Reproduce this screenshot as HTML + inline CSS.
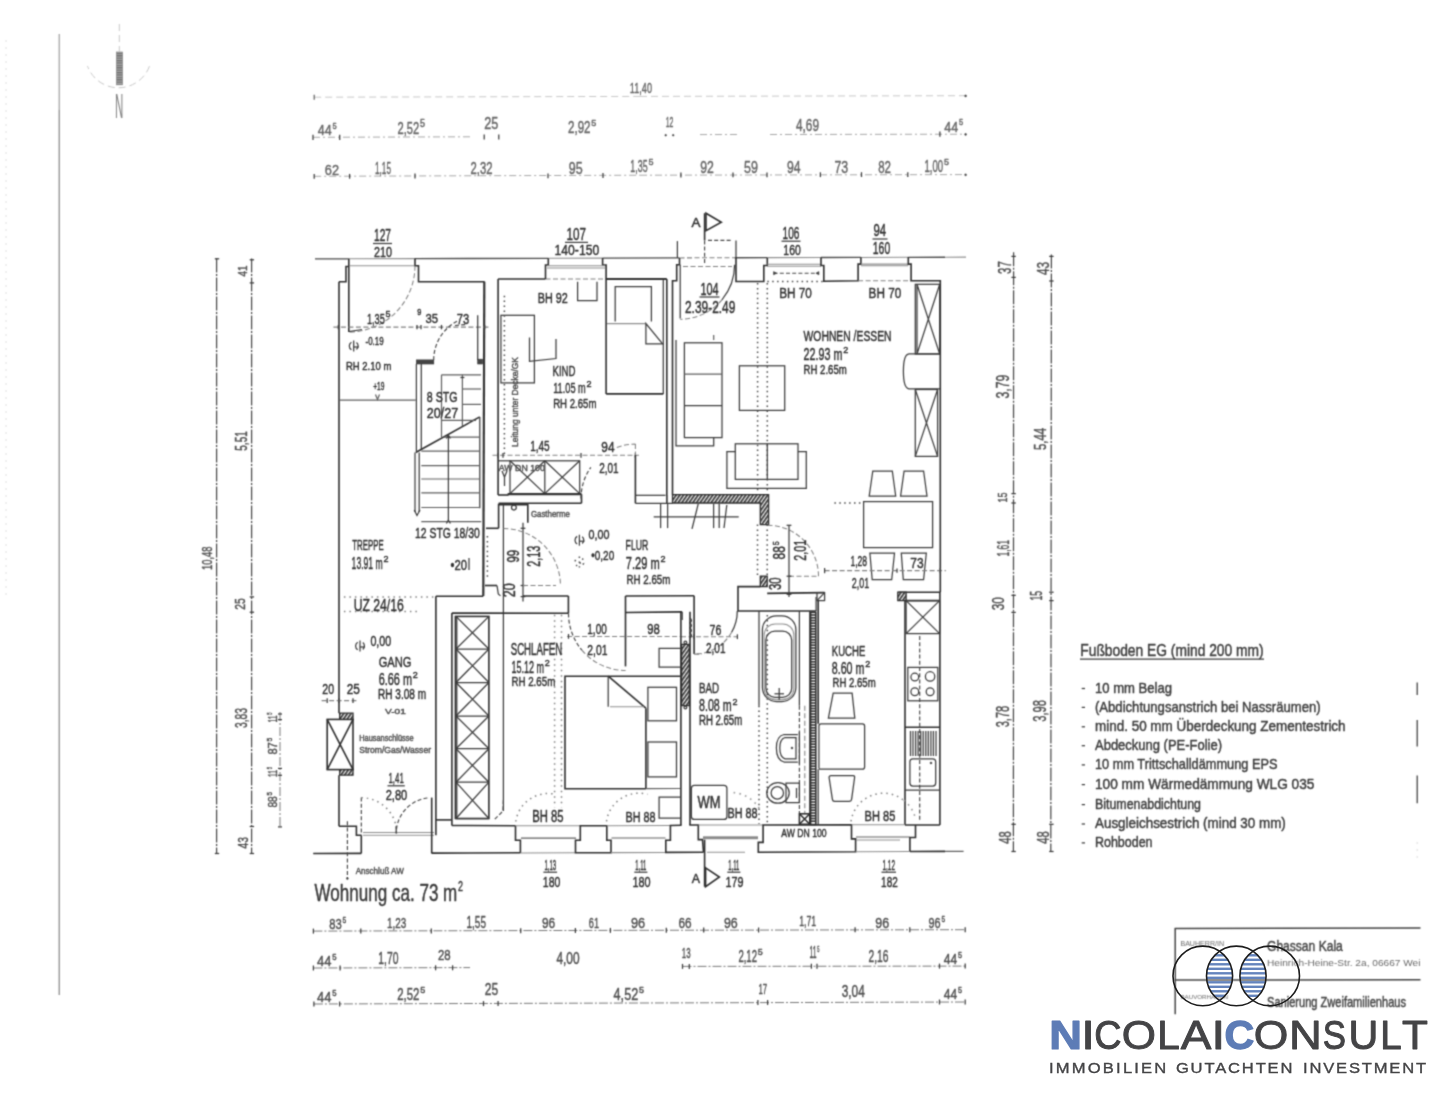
<!DOCTYPE html>
<html lang="de"><head><meta charset="utf-8"><title>Grundriss Wohnung ca. 73 m2</title>
<style>
html,body{margin:0;padding:0;background:#fff}
body{width:1440px;height:1112px;overflow:hidden;position:relative;font-family:"Liberation Sans",sans-serif}
svg{position:absolute;left:0;top:0;display:block}
g.dr path,g.dr rect,g.dr circle,g.dr ellipse{fill:none;stroke-linecap:butt}
.w{stroke:#2e2e2e;stroke-width:1.6}
.wt{stroke:#4a4a4a;stroke-width:1.35}
.w2{stroke:#333;stroke-width:2.2}
.n{stroke:#3c3c3c;stroke-width:1.25}
.g2{stroke:#5e5e5e;stroke-width:1.2}
.g{stroke:#8e8e8e;stroke-width:1.05}
.rung{stroke:#333;stroke-width:1.6}
.g2b{stroke:#777;stroke-width:1.1}
.vg{stroke:#c8c8c8;stroke-width:1;stroke-dasharray:7 4}
.vvg{stroke:#ddd;stroke-width:1;stroke-dasharray:2 5}
.d{stroke:#444;stroke-width:1.15;stroke-dasharray:4 2.2}
.gd{stroke:#808080;stroke-width:1.05;stroke-dasharray:5 2.5}
.gd2{stroke:#787878;stroke-width:1;stroke-dasharray:9 2 2 2}
.vd{stroke:#484848;stroke-width:1.25;stroke-dasharray:14 1.5 2 1.5}
.gd3{stroke:#a8a8a8;stroke-width:1;stroke-dasharray:7 3 2 3}
.dot{stroke:#4a4a4a;stroke-width:1.5;stroke-dasharray:1.5 3.4}
.dot2{stroke:#808080;stroke-width:1.5;stroke-dasharray:1.5 4}
.dot3{stroke:#999;stroke-width:1.6;stroke-dasharray:1.6 4.3}
g.dr .hf{fill:#444;stroke:#333;stroke-width:0.6}
g.dr .hatch{fill:url(#hp);stroke:#2e2e2e;stroke-width:1.3}
g.dr .north{fill:url(#np);stroke:#888;stroke-width:0.7}
text{font-family:"Liberation Sans",sans-serif;fill:#3e3e3e}
g.dr text{stroke-width:0.45;stroke-linejoin:round}
.t{fill:#303030;stroke:#303030}
.t2{fill:#505050;stroke:#505050;stroke-width:0.35}
.tw{fill:#383838;stroke:#383838;stroke-width:0.2}
.t2t{fill:#666;stroke:#666;stroke-width:0.2}
.t3{fill:#505050;stroke:#505050;stroke-width:0.25}
.tn{fill:#808080}
.tl{fill:#3c3c3c;stroke:#3c3c3c;stroke-width:0.35}
.tb{fill:#444;stroke:#444;stroke-width:0.25}
.tb2{fill:#6a6a6a}
.tbl{stroke:#444;stroke-width:1.5}
.lg{font-family:"Liberation Sans",sans-serif}
</style></head><body>
<svg width="1440" height="1112" viewBox="0 0 1440 1112">
<defs>
<pattern id="hp" width="3" height="3" patternUnits="userSpaceOnUse" patternTransform="rotate(35)"><rect width="3" height="3" style="fill:#fff;stroke:none"/><rect width="1.7" height="3" style="fill:#2b2b2b;stroke:none"/></pattern>
<pattern id="np" width="3" height="2.4" patternUnits="userSpaceOnUse"><rect width="3" height="2.4" style="fill:#aaa;stroke:none"/><rect width="3" height="1.2" style="fill:#6a6a6a;stroke:none"/></pattern>
<filter id="bl" x="0" y="0" width="1440" height="1112" filterUnits="userSpaceOnUse" color-interpolation-filters="sRGB"><feConvolveMatrix order="3" kernelMatrix="1 3 1 3 9 3 1 3 1" divisor="25" edgeMode="none" preserveAlpha="false"/></filter>
<clipPath id="lens1"><circle cx="1202.8" cy="975.9" r="29.8"/></clipPath>
<clipPath id="lens2"><circle cx="1236.3" cy="975.9" r="29.8"/></clipPath>
<clipPath id="lens3"><circle cx="1269.7" cy="975.9" r="29.8"/></clipPath>
</defs>
<g class="dr" filter="url(#bl)">
<path class="wt" d="M315 258.9L348.8 258.8"/>
<path class="g" d="M348.8 258.8L415 258.6"/>
<path class="wt" d="M415 258.6L548.3 258.3"/>
<path class="g" d="M548.3 258.3L602.6 258.1"/>
<path class="wt" d="M602.6 258.1L679.5 257.9"/>
<path class="gd" d="M679.5 257.9L734.6 257.7"/>
<path class="wt" d="M734.6 257.7L767.3 257.6"/>
<path class="g" d="M767.3 257.6L821 257.5"/>
<path class="wt" d="M821 257.5L860.9 257.4"/>
<path class="g" d="M860.9 257.4L908.3 257.3"/>
<path class="wt" d="M908.3 257.3L945 257.2"/>
<path class="g" d="M945 257.2L966 257.1"/>
<path class="w" d="M348.8 258.8L348.8 332"/>
<path class="w" d="M348.8 266.5L346 266.5L346 281.8L339 281.8"/>
<path class="g" d="M350 265.8L414 265.8"/>
<path class="w" d="M415 258.6L415 265.8L418.5 265.8L418.5 281.8L484.7 281.8"/>
<path class="gd" d="M415 265.8A66.2 66.2 0 0 1 348.8 332"/>
<path class="n" d="M349 331.6L362 329.5"/>
<path class="w" d="M339 281.8L339 713.2"/>
<path class="w" d="M339 775.2L339 826.2"/>
<path class="w2" d="M484.3 281.8L483.3 595.9"/>
<path class="w" d="M498.1 279L498.1 495"/>
<path class="gd" d="M333.4 327.1L489.5 327.1"/>
<path class="n" d="M338.3 324.9L338.3 329.3"/>
<path class="n" d="M417 324.9L417 329.3"/>
<path class="n" d="M421 324.9L421 329.3"/>
<path class="n" d="M441.5 324.9L441.5 329.3"/>
<path class="n" d="M484.7 324.9L484.7 329.3"/>
<rect class="hf" x="416.4" y="359.9" width="17.4" height="4.1"/>
<rect class="hf" x="477.7" y="359.2" width="4.9" height="4.8"/>
<path class="n" d="M477.7 315.3L477.7 359.9"/>
<path class="d" d="M433.7 360A44 44 0 0 1 459.1 320.1"/>
<path class="d" d="M455 325.5L466 324.5"/>
<path class="n" d="M416.4 364L416.4 451.1"/>
<path class="n" d="M421.3 364L421.3 449"/>
<path class="n" d="M415 452.5L415 512"/>
<path class="n" d="M419.2 452.5L419.2 512"/>
<path class="n" d="M414.2 510L417 515.5L420 510"/>
<path class="g2" d="M339 400.2L415.7 400.2"/>
<path class="g2" d="M375.5 394.5L377.5 399.5L379.5 394.5"/>
<path class="w" d="M415.7 452.5L479.8 416.9"/>
<path class="n" d="M479.8 416.9L479.8 508.2"/>
<path class="g2" d="M441.5 374.8L481 374.8"/>
<path class="g2" d="M463 389L481 389"/>
<path class="g2" d="M463 404.4L481 404.4"/>
<path class="g2" d="M441.5 420.4L476 420.4"/>
<path class="g2" d="M441.5 374.8L441.5 437"/>
<path class="g2" d="M462.4 374.8L462.4 426"/>
<path class="n" d="M460.4 377.5L464.4 377.5"/>
<path class="g2" d="M443.4 437.1L479.8 437.1"/>
<path class="g2" d="M421.3 451.1L479.8 451.1"/>
<path class="g2" d="M421.3 465.7L479.8 465.7"/>
<path class="g2" d="M421.3 479L479.8 479"/>
<path class="g2" d="M421.3 492.9L479.8 492.9"/>
<path class="g2" d="M421.3 507.5L479.8 507.5"/>
<path class="g2" d="M421.3 521.6L481.2 521.6"/>
<path class="n" d="M448.4 435.7L448.4 521.6"/>
<path class="n" d="M446.4 438.5L448.4 435.2L450.4 438.5"/>
<path class="n" d="M446.4 523.5L448.4 520.2L450.4 523.5"/>
<path class="w" d="M498.1 279L545.5 279"/>
<path class="gd" d="M545.5 279L606.1 279"/>
<path class="w2" d="M606.1 279L666.8 279"/>
<path class="w" d="M548.3 258.2L548.3 265L545.5 265L545.5 279"/>
<path class="w" d="M602.6 258L602.6 265L606.1 265L606.1 279"/>
<path class="g" d="M547 265.8L605 265.8"/>
<path class="g" d="M547 267.9L605 267.9"/>
<path class="n" d="M577.6 281.8L577.6 300.6L597 300.6L597 281.8"/>
<rect class="n" x="500.9" y="315.3" width="33.5" height="67.6"/>
<path class="dot" d="M504.4 295.7L504.4 457"/>
<path class="n" d="M529.5 337.6L529.5 361.3L556 358.5L556 339"/>
<path class="w" d="M606.1 279L606.1 393.9"/>
<path class="w" d="M606.1 393.9L663.3 393.9"/>
<path class="n" d="M663.3 279L663.3 393.9"/>
<path class="w" d="M666.8 279L666.8 495"/>
<path class="n" d="M615.2 321.5L615.2 286.7L651.4 286.7L651.4 321.5"/>
<path class="g" d="M607 323.6L645.9 323.6"/>
<path class="n" d="M645.9 323.6L645.9 343.8L662.6 343.8Z"/>
<rect class="n" x="510" y="460.8" width="69.7" height="32.8"/>
<path class="n" d="M544.8 460.8L544.8 493.6"/>
<path class="n" d="M510 460.8L544.8 493.6M544.8 460.8L510 493.6M544.8 460.8L579.7 493.6M579.7 460.8L544.8 493.6"/>
<path class="n" d="M498.1 460.8L510 460.8"/>
<path class="n" d="M502 471L504.5 477L507 471"/>
<path class="n" d="M504.5 477L504.5 486"/>
<path class="w" d="M498.1 495L508.6 495"/>
<path class="gd" d="M492.5 455.3L638.9 455.3"/>
<path class="n" d="M498.1 452.9L498.1 457.7"/>
<path class="n" d="M503 452.9L503 457.7"/>
<path class="n" d="M581 452.9L581 457.7"/>
<path class="n" d="M635.4 452.9L635.4 457.7"/>
<path class="w2" d="M507.6 494.2L581.5 494.2"/>
<path class="w" d="M581.5 494.2L581.5 503.2"/>
<path class="w" d="M498.6 503.2L581.5 503.2"/>
<path class="d" d="M581 498.5A54.4 54.4 0 0 1 590.8 467.3"/>
<path class="gd" d="M616.8 447.4A54.4 54.4 0 0 1 635.4 444.1"/>
<path class="gd" d="M635.4 444L635.4 455"/>
<path class="w" d="M635.4 455L635.4 503.3"/>
<path class="n" d="M635.4 495.3L665.5 495.3"/>
<path class="n" d="M635.4 503.3L672.5 503.3"/>
<path class="w" d="M666.9 495L666.9 503"/>
<path class="w" d="M498.6 528.3L498.6 504.6L527.8 504.6L527.8 522.8"/>
<path class="w" d="M486 528.3L498.6 528.3"/>
<circle class="n" cx="513.9" cy="507.6" r="2.4"/>
<path class="n" d="M503.4 504.6L503.4 811"/>
<path class="w" d="M485 585.5L497 585.5"/>
<path class="n" d="M497 585.5L498.3 594L500.5 595.9"/>
<path class="dot" d="M487.4 536L487.4 580"/>
<path class="n" d="M523 522.8L523 601.5"/>
<path class="n" d="M520.6 528.3L525.4 528.3"/>
<path class="n" d="M520.6 585.5L525.4 585.5"/>
<path class="n" d="M520.6 596.6L525.4 596.6"/>
<path class="gd" d="M503.4 528.5A57 57 0 0 1 560.4 583.5"/>
<path class="gd" d="M523 585.5L556 585.5"/>
<path class="w" d="M679.5 257.9L679.5 264.8L676.7 264.8L676.7 280.8L672.5 280.8L672.5 494.6"/>
<path class="n" d="M677.4 241.1L677.4 257.9"/>
<path class="n" d="M680.2 264.8L680.2 318.5"/>
<path class="n" d="M734.6 264.8A54.4 54.4 0 0 1 721.9 299.8"/>
<path class="gd" d="M721.9 299.8A54.4 54.4 0 0 1 680.2 319.2"/>
<path class="gd" d="M683 266.5L732 266.5"/>
<path class="w" d="M704.6 213.2L704.6 240.4"/>
<path class="d" d="M704.6 240.4L704.6 264.1"/>
<path class="w" d="M706 213.2L721.3 222.3L706 230.7Z"/>
<path class="d" d="M708 240.4L731 240.4"/>
<path class="n" d="M736 240.4L736 257.8"/>
<path class="w" d="M736 257.8L736 281.5L763.8 281.5L763.8 265.5L767.3 265.5L767.3 257.7"/>
<path class="g" d="M767.3 264.3L821 264.3"/>
<path class="g" d="M767.3 266.2L821 266.2"/>
<path class="d" d="M773.6 273.2L818.9 273.2"/>
<path class="hf" d="M773.6 271.6L776.6 273.2L773.6 274.8Z"/>
<path class="hf" d="M818.9 271.6L815.9 273.2L818.9 274.8Z"/>
<path class="dot" d="M767.3 281.5L823.8 281.5"/>
<path class="w" d="M821 257.4L821 265.5L823.8 265.5L823.8 281.3L858.1 280.8L858.1 264.1L860.9 264.1L860.9 257.2"/>
<path class="g" d="M860.9 264.1L908.3 264.1"/>
<path class="g" d="M860.9 265.8L908.3 265.8"/>
<path class="gd" d="M858.1 280.8L911.1 280.8"/>
<path class="w" d="M908.3 257.1L908.3 264.1L911.1 264.1L911.1 280.8L940.3 280.8L940.3 592.2"/>
<path class="dot" d="M757.6 283L757.6 491.2"/>
<path class="dot" d="M767.3 283L767.3 491.2"/>
<rect class="n" x="684.4" y="342.8" width="37.6" height="94.8"/>
<path class="g2" d="M684.4 374.1L722 374.1"/>
<path class="n" d="M684.4 405.5L722 405.5"/>
<path class="n" d="M676 340L676 445.9L713.7 445.9L713.7 437.6"/>
<path class="g2" d="M713.7 335L713.7 340"/>
<rect class="n" x="739.4" y="365.8" width="45.3" height="44.6"/>
<rect class="n" x="735.3" y="443.8" width="62.7" height="35.6"/>
<path class="n" d="M767.3 443.8L767.3 479.4"/>
<path class="n" d="M735.3 451.5L726.9 451.5L726.9 488.4L806.3 488.4L806.3 451.5L798 451.5"/>
<rect class="n" x="915.3" y="284.3" width="24.4" height="69.7"/>
<path class="n" d="M917 284.3L939.7 354M939.7 284.3L917 354M917 284.3L917 354"/>
<path class="n" d="M940.3 353.9L909 353.9Q903.4 354.5 903.4 371.3Q903.4 388.3 909 388.8L940.3 388.8"/>
<rect class="n" x="915.3" y="389.5" width="22.3" height="66.9"/>
<path class="n" d="M915.3 389.5L937.6 456.4M937.6 389.5L915.3 456.4"/>
<path class="n" d="M872.8 471L869.2 496L895.7 496L892.3 471Z"/>
<path class="n" d="M904.1 471L900.6 496L927 496L923.6 471Z"/>
<rect class="n" x="863.6" y="501.6" width="69" height="46"/>
<path class="n" d="M869.9 553.2L872.2 579.7L891.7 579.7L894.5 553.2Z"/>
<path class="n" d="M901.3 553.2L903.3 579.7L923.6 579.7L926.3 553.2Z"/>
<path class="dot" d="M834.4 503L863.6 503"/>
<path class="hatch" d="M672.5 494.6L768.6 494.6L768.6 524.6L760.3 524.6L760.3 503L672.5 503Z"/>
<path class="n" d="M653.7 516.9L738.7 516.9"/>
<path class="n" d="M660.6 503.7L660.6 528.1"/>
<path class="n" d="M667.6 503.7L667.6 528.1"/>
<path class="n" d="M713.6 503.7L713.6 528.1"/>
<path class="n" d="M719.2 503.7L719.2 528.1"/>
<path class="n" d="M698.3 503.7L692 528.8"/>
<path class="n" d="M726.8 505L724 528"/>
<path class="dot" d="M757.5 524.6L757.5 576.2"/>
<path class="dot" d="M767.2 524.6L767.2 576.2"/>
<path class="hatch" d="M760.3 576.2H767.2V586.6H760.3Z"/>
<path class="w" d="M760.3 586.6L738 586.6L738 611L816.1 611"/>
<path class="w" d="M767.2 593.4L824.6 592.6"/>
<rect class="n" x="817" y="592.6" width="7.6" height="8"/>
<path class="n" d="M817 600.6L824.6 592.6"/>
<path class="n" d="M816.1 597L816.1 611"/>
<path class="gd" d="M767.5 525.2A51 51 0 0 1 818.5 576.2"/>
<path class="gd" d="M789 576.2L818.3 576.2"/>
<path class="n" d="M789 525.3L789 597.1"/>
<path class="n" d="M786.6 525.3L791.4 525.3"/>
<path class="n" d="M786.6 576.2L791.4 576.2"/>
<path class="n" d="M786.6 594.3L791.4 594.3"/>
<path class="gd" d="M824.6 570.6L945.9 570.6"/>
<path class="n" d="M824.6 568L824.6 573.2"/>
<path class="n" d="M940.3 568L940.3 573.2"/>
<path class="n" d="M897 568.4L897 572.8"/>
<path class="w" d="M898.5 592.2L940.3 592.2"/>
<path class="hatch" d="M897.8 592.2H906.1V600.6H897.8Z"/>
<path class="w" d="M905 600.6L939.9 600.6"/>
<path class="w" d="M905 600.6L905 825"/>
<path class="w" d="M939.9 592.2L939.9 825"/>
<rect class="n" x="906.1" y="600.6" width="33.5" height="33"/>
<path class="n" d="M906.1 600.6L939.6 633.6M939.6 600.6L906.1 633.6"/>
<path class="d" d="M919.7 636L919.7 822"/>
<rect class="n" x="907.8" y="667.4" width="30" height="33.4"/>
<circle class="n" cx="914.8" cy="677.1" r="3.9"/>
<circle class="n" cx="930.1" cy="676.4" r="4.7"/>
<circle class="n" cx="914.8" cy="691.7" r="3.9"/>
<circle class="n" cx="930.1" cy="691.7" r="3.9"/>
<path class="w" d="M905 727.3L939.9 727.3"/>
<path class="n" d="M910.5 731L910.5 756"/>
<path class="n" d="M913 731L913 756"/>
<path class="n" d="M915.6 731L915.6 756"/>
<path class="n" d="M918.1 731L918.1 756"/>
<path class="n" d="M920.7 731L920.7 756"/>
<path class="n" d="M923.2 731L923.2 756"/>
<path class="n" d="M925.8 731L925.8 756"/>
<path class="n" d="M928.3 731L928.3 756"/>
<path class="n" d="M930.9 731L930.9 756"/>
<path class="n" d="M933.4 731L933.4 756"/>
<path class="n" d="M936 731L936 756"/>
<rect class="n" x="909.9" y="758.8" width="25.8" height="27.2" rx="3"/>
<circle class="hf" cx="931" cy="763" r="0.9"/>
<path class="n" d="M905 790.1L939.9 790.1"/>
<path class="n" d="M833.2 693.1L828.4 718.2L854.8 718.2L852.1 693.1Z"/>
<path class="n" d="M818.9 768.5L818.9 726Q818.9 723.8 821 723.8L862.5 723.8Q864.6 723.8 864.6 726L864.6 767Q864.6 769.2 862.5 769.2L818.9 769.2"/>
<path class="n" d="M829.1 777.5Q829.1 775.5 831 775.5L853 775.5Q854.8 775.5 854.6 777.5L851.6 799.3Q851.4 801.3 849.4 801.3L834.5 801.3Q832.7 801.3 832.4 799.3Z"/>
<path class="n" d="M809.8 611L809.8 813.8"/>
<rect class="w" x="810.6" y="612.3" width="5.2" height="212.2"/>
<path class="rung" d="M810.6 615L815.8 615"/>
<path class="rung" d="M810.6 617.8L815.8 617.8"/>
<path class="rung" d="M810.6 620.5L815.8 620.5"/>
<path class="rung" d="M810.6 623.2L815.8 623.2"/>
<path class="rung" d="M810.6 626L815.8 626"/>
<path class="rung" d="M810.6 628.8L815.8 628.8"/>
<path class="rung" d="M810.6 631.5L815.8 631.5"/>
<path class="rung" d="M810.6 634.2L815.8 634.2"/>
<path class="rung" d="M810.6 637L815.8 637"/>
<path class="rung" d="M810.6 639.8L815.8 639.8"/>
<path class="rung" d="M810.6 642.5L815.8 642.5"/>
<path class="rung" d="M810.6 645.2L815.8 645.2"/>
<path class="rung" d="M810.6 648L815.8 648"/>
<path class="rung" d="M810.6 650.8L815.8 650.8"/>
<path class="rung" d="M810.6 653.5L815.8 653.5"/>
<path class="rung" d="M810.6 656.2L815.8 656.2"/>
<path class="rung" d="M810.6 659L815.8 659"/>
<path class="rung" d="M810.6 661.8L815.8 661.8"/>
<path class="rung" d="M810.6 664.5L815.8 664.5"/>
<path class="rung" d="M810.6 667.2L815.8 667.2"/>
<path class="rung" d="M810.6 670L815.8 670"/>
<path class="rung" d="M810.6 672.8L815.8 672.8"/>
<path class="rung" d="M810.6 675.5L815.8 675.5"/>
<path class="rung" d="M810.6 678.2L815.8 678.2"/>
<path class="rung" d="M810.6 681L815.8 681"/>
<path class="rung" d="M810.6 683.8L815.8 683.8"/>
<path class="rung" d="M810.6 686.5L815.8 686.5"/>
<path class="rung" d="M810.6 689.2L815.8 689.2"/>
<path class="rung" d="M810.6 692L815.8 692"/>
<path class="rung" d="M810.6 694.8L815.8 694.8"/>
<path class="rung" d="M810.6 697.5L815.8 697.5"/>
<path class="rung" d="M810.6 700.2L815.8 700.2"/>
<path class="rung" d="M810.6 703L815.8 703"/>
<path class="rung" d="M810.6 705.8L815.8 705.8"/>
<path class="rung" d="M810.6 708.5L815.8 708.5"/>
<path class="rung" d="M810.6 711.2L815.8 711.2"/>
<path class="rung" d="M810.6 714L815.8 714"/>
<path class="rung" d="M810.6 716.8L815.8 716.8"/>
<path class="rung" d="M810.6 719.5L815.8 719.5"/>
<path class="rung" d="M810.6 722.2L815.8 722.2"/>
<path class="rung" d="M810.6 725L815.8 725"/>
<path class="rung" d="M810.6 727.8L815.8 727.8"/>
<path class="rung" d="M810.6 730.5L815.8 730.5"/>
<path class="rung" d="M810.6 733.2L815.8 733.2"/>
<path class="rung" d="M810.6 736L815.8 736"/>
<path class="rung" d="M810.6 738.8L815.8 738.8"/>
<path class="rung" d="M810.6 741.5L815.8 741.5"/>
<path class="rung" d="M810.6 744.2L815.8 744.2"/>
<path class="rung" d="M810.6 747L815.8 747"/>
<path class="rung" d="M810.6 749.8L815.8 749.8"/>
<path class="rung" d="M810.6 752.5L815.8 752.5"/>
<path class="rung" d="M810.6 755.2L815.8 755.2"/>
<path class="rung" d="M810.6 758L815.8 758"/>
<path class="rung" d="M810.6 760.8L815.8 760.8"/>
<path class="rung" d="M810.6 763.5L815.8 763.5"/>
<path class="rung" d="M810.6 766.2L815.8 766.2"/>
<path class="rung" d="M810.6 769L815.8 769"/>
<path class="rung" d="M810.6 771.8L815.8 771.8"/>
<path class="rung" d="M810.6 774.5L815.8 774.5"/>
<path class="rung" d="M810.6 777.2L815.8 777.2"/>
<path class="rung" d="M810.6 780L815.8 780"/>
<path class="rung" d="M810.6 782.8L815.8 782.8"/>
<path class="rung" d="M810.6 785.5L815.8 785.5"/>
<path class="rung" d="M810.6 788.2L815.8 788.2"/>
<path class="rung" d="M810.6 791L815.8 791"/>
<path class="rung" d="M810.6 793.8L815.8 793.8"/>
<path class="rung" d="M810.6 796.5L815.8 796.5"/>
<path class="rung" d="M810.6 799.2L815.8 799.2"/>
<path class="rung" d="M810.6 802L815.8 802"/>
<path class="rung" d="M810.6 804.8L815.8 804.8"/>
<path class="rung" d="M810.6 807.5L815.8 807.5"/>
<path class="rung" d="M810.6 810.2L815.8 810.2"/>
<path class="rung" d="M810.6 813L815.8 813"/>
<path class="rung" d="M810.6 815.8L815.8 815.8"/>
<path class="rung" d="M810.6 818.5L815.8 818.5"/>
<path class="rung" d="M810.6 821.2L815.8 821.2"/>
<path class="w" d="M818.2 600.6L818.2 723.8"/>
<path class="n" d="M818.2 769.2L818.2 825"/>
<path class="n" d="M759 611L759 705.7"/>
<path class="dot" d="M759 705.7L759 824"/>
<path class="dot" d="M767.3 615L767.3 824"/>
<path class="n" d="M799.4 611L799.4 705.7"/>
<path class="d" d="M799.4 705.7L799.4 813"/>
<path class="gd" d="M804.8 705.7L804.8 813"/>
<rect class="n" x="762.4" y="615.8" width="33.5" height="85.7" rx="14"/>
<rect class="n" x="765.9" y="631.1" width="25.8" height="66.2" rx="9"/>
<rect class="g" x="764.2" y="624" width="29.6" height="75.6" rx="11"/>
<path class="n" d="M779.2 688L779.2 700"/>
<path class="n" d="M774.5 693.8L784 693.8"/>
<path class="n" d="M799.4 732.3L799.4 763.7M797.8 734.5L784 734.5Q776.4 736 776.4 748Q776.4 760 784 762L797.8 762"/>
<path class="n" d="M796 737.5L785 737.5Q779.8 739 779.8 748Q779.8 757 785 758.8L796 758.8Z"/>
<circle class="hf" cx="792" cy="748" r="0.9"/>
<path class="n" d="M799.4 783.2L786 783.2L786 802.7L799.4 802.7Z"/>
<ellipse class="n" cx="778" cy="792.9" rx="11.2" ry="10.3"/>
<circle class="n" cx="777.3" cy="792.9" r="6.2"/>
<path class="n" d="M796.5 788L796.5 798"/>
<rect class="w" x="799.4" y="813.8" width="10.4" height="10.5"/>
<path class="w" d="M799.4 813.8L809.8 824.3M809.8 813.8L799.4 824.3"/>
<rect class="n" x="691.4" y="785.3" width="35.5" height="34.1" rx="3"/>
<path class="w" d="M694.1 595.8L694.1 654.1"/>
<path class="gd" d="M694.1 654.1L702 654.1"/>
<path class="n" d="M737.3 610.9A43.2 43.2 0 0 1 731.5 632.5"/>
<path class="gd" d="M731.5 632.5A43.2 43.2 0 0 1 694.1 654.1"/>
<path class="gd" d="M681 636.7L738 636.7"/>
<path class="n" d="M694.1 634.3L694.1 639.1"/>
<path class="n" d="M737.4 634.3L737.4 639.1"/>
<path class="w" d="M680.9 611.7L680.9 825"/>
<path class="w" d="M690 611.7L690 825"/>
<path class="hatch" d="M681.6 644.4H689.3V705.7H681.6Z"/>
<circle class="n" cx="685.4" cy="642.5" r="1.4"/>
<circle class="n" cx="685.4" cy="707.5" r="1.4"/>
<path class="n" d="M690 618q3 2.5 0 5q3 2.5 0 5q3 2.5 0 5q3 2.5 0 5"/>
<path class="w" d="M435.9 596.2L483.3 596.2"/>
<path class="w" d="M523 596L568.4 596"/>
<path class="w" d="M568.4 596L568.4 613.3"/>
<path class="w" d="M451.9 613.1L568.4 613.3"/>
<path class="w" d="M625.5 596L694.1 595.7"/>
<path class="w" d="M625.5 596L625.5 666.4"/>
<path class="w" d="M625.5 612.5L682.2 611.9"/>
<path class="n" d="M682.2 611.9L682.2 620"/>
<path class="d" d="M568.5 613.4A57.1 57.1 0 0 0 581.9 650.1"/>
<path class="gd" d="M581.9 650.1A57.1 57.1 0 0 0 625.6 670.5"/>
<path class="gd" d="M567.1 636.4L680 636.4"/>
<path class="n" d="M568.5 634L568.5 638.8"/>
<path class="n" d="M625.5 634L625.5 638.8"/>
<path class="dot2" d="M554.6 614.8L554.6 807.6"/>
<path class="dot2" d="M561.5 614.8L561.5 807.6"/>
<path class="w" d="M435.9 596.2L435.9 835.3"/>
<path class="w" d="M451.9 613.1L451.9 825.5"/>
<path class="w" d="M435.9 819.9L451.9 819.9"/>
<rect class="w" x="455.4" y="616.4" width="33.5" height="202.1"/>
<path class="n" d="M456.8 616.4L456.8 818.5"/>
<path class="n" d="M456 616.4L488.9 649M488.9 616.4L456 649M456 649L488.9 649"/>
<path class="n" d="M456 649L488.9 682.5M488.9 649L456 682.5M456 682.5L488.9 682.5"/>
<path class="n" d="M456 682.5L488.9 716M488.9 682.5L456 716M456 716L488.9 716"/>
<path class="n" d="M456 716L488.9 748.7M488.9 716L456 748.7M456 748.7L488.9 748.7"/>
<path class="n" d="M456 748.7L488.9 782.2M488.9 748.7L456 782.2M456 782.2L488.9 782.2"/>
<path class="n" d="M456 782.2L488.9 818.5M488.9 782.2L456 818.5M456 818.5L488.9 818.5"/>
<path class="d" d="M503.4 800L503 811L494 820"/>
<path class="w" d="M680 676.2L565 676.2L565 788.7L645.9 788.7"/>
<path class="w" d="M645.9 708.2L645.9 788.7"/>
<path class="g2" d="M645.9 788.7L680 788.5"/>
<path class="n" d="M608.2 676.2L608.2 706.8"/>
<path class="w" d="M608.2 676.2L645.9 708.2"/>
<path class="g" d="M610 706.8L644 706.8"/>
<rect class="n" x="647.9" y="687.3" width="28.6" height="33.5"/>
<rect class="n" x="647.9" y="742" width="28.6" height="34.9"/>
<path class="n" d="M680 648.3L659.1 648.3L659.1 667.1L680 667.1"/>
<path class="n" d="M680 797.1L659.1 797.1L659.1 818L680 818"/>
<path class="dot2" d="M515.8 821.5A32.5 32.5 0 0 1 553.6 794"/>
<path class="dot2" d="M606.5 821.4A32.8 32.8 0 0 1 647.5 794.3"/>
<path class="dot3" d="M733.6 792.6A33.5 33.5 0 0 1 759.7 809.2"/>
<path class="dot2" d="M851 821.4A32.8 32.8 0 0 1 903.7 800.2"/>
<path class="dot3" d="M903.7 800.2A32.8 32.8 0 0 1 915.2 817.5"/>
<rect class="w" x="327.2" y="719.4" width="25.8" height="50.2"/>
<path class="w" d="M327.2 719.4L353 769.6M353 719.4L327.2 769.6"/>
<path class="hatch" d="M339.7 713.2H353V719.4H339.7Z"/>
<path class="hatch" d="M339.7 769.6H353V775.2H339.7Z"/>
<path class="gd" d="M321.6 700.6L356.4 700.6"/>
<path class="n" d="M327.2 698.2L327.2 703"/>
<path class="n" d="M339 698.2L339 703"/>
<path class="n" d="M353 698.2L353 703"/>
<path class="dot2" d="M343.9 596.9L433.8 596.9"/>
<path class="dot2" d="M343.9 611.5L419.9 611.5"/>
<path class="w" d="M313.2 853.5L361.3 853.4"/>
<path class="w" d="M361.3 835.3L361.3 853.4"/>
<path class="d" d="M361.3 797.6L361.3 835.3"/>
<path class="w" d="M339 826.2L356.4 826.2L356.4 835.3L361.3 835.3"/>
<path class="d" d="M347.4 821.3L347.4 878.5"/>
<circle class="hf" cx="347.4" cy="878.5" r="0.9"/>
<path class="g" d="M363 832.5L434 832.5"/>
<path class="g" d="M363 835.3L434 835.3"/>
<path class="w" d="M431.7 797.6L431.7 853.4"/>
<path class="d" d="M427.4 798A35.5 35.5 0 0 0 396.2 833.2"/>
<path class="dot2" d="M361.3 797.7A35.5 35.5 0 0 1 396.8 833.2"/>
<path class="n" d="M396.2 826L396.2 833.5"/>
<path class="w" d="M431.7 853.1L520.4 852.8"/>
<path class="w" d="M451.9 825.5L515.5 825.7"/>
<path class="w" d="M515.5 825.7L515.5 840.3L520.4 840.3L520.4 852.9"/>
<path class="g" d="M515.5 825.7L580.3 825.7"/>
<path class="g2" d="M521 838.2L576 838.2"/>
<path class="g" d="M520.4 852.9L575.5 852.7"/>
<path class="w" d="M580.3 825.7L580.3 840.3L575.5 840.3L575.5 852.7L611 852.6L611 840.3L606.8 840.3L606.8 825.7Z"/>
<path class="g" d="M606.8 825.7L670.4 825.5"/>
<path class="g2" d="M611.5 838L665.5 838"/>
<path class="g" d="M611 852.6L665.8 852.4"/>
<path class="w" d="M681.6 825.3L670.4 825.5L670.4 840.3L665.8 840.3L665.8 852.4L703.5 852.3"/>
<path class="w" d="M689.3 825L698.3 825L698.3 839.6L702.5 839.6L703.5 852.3"/>
<path class="w" d="M704.6 839.6L704.6 886.7"/>
<path class="w" d="M705.6 867.8L719.4 877L705.6 886.7Z"/>
<path class="g" d="M698.3 825L763.1 825"/>
<path class="g2" d="M703 837.2L758 837.2"/>
<path class="g" d="M703 838.6L758 838.6"/>
<path class="g" d="M707 852.3L745 852.2"/>
<path class="w" d="M763.1 825L763.1 842.4L758.3 842.4L758.3 852.2L855.6 851.8L855.6 838.9L851.5 838.9L851.5 824.8Z"/>
<path class="g" d="M851.5 824.8L905 824.8"/>
<path class="g2" d="M856 837L909.5 837"/>
<path class="g" d="M856 840L900 840"/>
<path class="w" d="M905 825L939.9 825"/>
<path class="w" d="M915.5 825L915.5 837.5L909.9 837.5L909.9 851.5"/>
<path class="g" d="M855.6 851.7L909.9 851.5"/>
<path class="w" d="M909.9 851.5L945 851.4"/>
<path class="g2" d="M945 851.4L963.6 851.3"/>
<path class="vg" d="M314.2 97.2L640 96.4"/>
<path class="vg" d="M640 96.4L965.6 95.7"/>
<path class="g2" d="M314.2 94.7L314.2 99.7"/>
<circle class="hf" cx="965.6" cy="95.9" r="0.9"/>
<path class="gd3" d="M313 137.3L470 136.8"/>
<path class="gd3" d="M700 134.6L740 134.5"/>
<path class="gd3" d="M770 134.5L965.6 134.2"/>
<path class="n" d="M313 134.7L313 139.9"/>
<path class="n" d="M339.7 134.7L339.7 139.9"/>
<path class="n" d="M484.2 134.4L484.2 139.6"/>
<path class="n" d="M498.8 134.4L498.8 139.6"/>
<path class="n" d="M939.9 131.6L939.9 136.8"/>
<circle class="hf" cx="665.7" cy="135.2" r="0.8"/>
<circle class="hf" cx="673.2" cy="135.2" r="0.8"/>
<circle class="hf" cx="965.6" cy="134.4" r="0.9"/>
<path class="gd3" d="M314.2 176.3L640 175.2"/>
<path class="gd3" d="M640 175.2L965.6 174.6"/>
<path class="n" d="M314.2 173.9L314.2 178.7"/>
<path class="n" d="M349.6 173.9L349.6 178.7"/>
<path class="n" d="M415 173.6L415 178.4"/>
<path class="n" d="M548 173.4L548 178.2"/>
<path class="n" d="M603 173.1L603 177.9"/>
<path class="n" d="M680.9 172.6L680.9 177.4"/>
<path class="n" d="M733 172.5L733 177.3"/>
<path class="n" d="M767 172.4L767 177.2"/>
<path class="n" d="M820.4 172.3L820.4 177.1"/>
<path class="n" d="M861.5 172.2L861.5 177"/>
<path class="n" d="M907.8 172.2L907.8 177"/>
<circle class="hf" cx="965.6" cy="174.8" r="0.9"/>
<text class="t2t" x="629.8" y="92.6" font-size="15.4" textLength="22.2" lengthAdjust="spacingAndGlyphs">11,40</text>
<text class="t2t" x="317.7" y="135" font-size="15.4" textLength="13.9" lengthAdjust="spacingAndGlyphs">44</text>
<text class="t2t" x="332.4" y="128.6" font-size="9.2" textLength="4.2" lengthAdjust="spacingAndGlyphs">5</text>
<text class="t2t" x="397.5" y="133.5" font-size="16.8" textLength="21.7" lengthAdjust="spacingAndGlyphs">2,52</text>
<text class="t2t" x="420" y="126.5" font-size="10.1" textLength="5" lengthAdjust="spacingAndGlyphs">5</text>
<text class="t2t" x="484.2" y="129" font-size="16.1" textLength="14.1" lengthAdjust="spacingAndGlyphs">25</text>
<text class="t2t" x="568" y="132.6" font-size="16.2" textLength="22.5" lengthAdjust="spacingAndGlyphs">2,92</text>
<text class="t2t" x="591.3" y="125.9" font-size="9.7" textLength="5" lengthAdjust="spacingAndGlyphs">5</text>
<text class="t2t" x="665.7" y="127" font-size="15.1" textLength="7.7" lengthAdjust="spacingAndGlyphs">12</text>
<text class="t2t" x="796" y="131" font-size="15.6" textLength="23" lengthAdjust="spacingAndGlyphs">4,69</text>
<text class="t2t" x="944.2" y="131.7" font-size="15.5" textLength="13.9" lengthAdjust="spacingAndGlyphs">44</text>
<text class="t2t" x="958.9" y="125.3" font-size="9.3" textLength="4.1" lengthAdjust="spacingAndGlyphs">5</text>
<text class="t2t" x="324.8" y="175" font-size="14.9" textLength="14.2" lengthAdjust="spacingAndGlyphs">62</text>
<text class="t2t" x="375" y="174" font-size="15.6" textLength="16" lengthAdjust="spacingAndGlyphs">1,15</text>
<text class="t2t" x="470.5" y="174" font-size="16.2" textLength="21.9" lengthAdjust="spacingAndGlyphs">2,32</text>
<text class="t2t" x="568.7" y="174" font-size="16.1" textLength="13.9" lengthAdjust="spacingAndGlyphs">95</text>
<text class="t2t" x="630.3" y="171.5" font-size="16.1" textLength="17.3" lengthAdjust="spacingAndGlyphs">1,35</text>
<text class="t2t" x="648.4" y="164.8" font-size="9.6" textLength="5" lengthAdjust="spacingAndGlyphs">5</text>
<text class="t2t" x="700.2" y="172.8" font-size="16.2" textLength="13.6" lengthAdjust="spacingAndGlyphs">92</text>
<text class="t2t" x="744.1" y="172.8" font-size="16.5" textLength="13.9" lengthAdjust="spacingAndGlyphs">59</text>
<text class="t2t" x="787" y="172.8" font-size="16.2" textLength="13.6" lengthAdjust="spacingAndGlyphs">94</text>
<text class="t2t" x="834.5" y="172.8" font-size="16.2" textLength="13.7" lengthAdjust="spacingAndGlyphs">73</text>
<text class="t2t" x="878.2" y="172.8" font-size="16.2" textLength="12.8" lengthAdjust="spacingAndGlyphs">82</text>
<text class="t2t" x="924.5" y="171.5" font-size="16.1" textLength="18.6" lengthAdjust="spacingAndGlyphs">1,00</text>
<text class="t2t" x="943.9" y="164.8" font-size="9.6" textLength="5" lengthAdjust="spacingAndGlyphs">5</text>
<text class="t" x="374" y="241" font-size="15.6" textLength="17" lengthAdjust="spacingAndGlyphs">127</text>
<path class="n" d="M373 243.5L392 243.5"/>
<text class="t" x="374" y="256.6" font-size="14.8" textLength="18" lengthAdjust="spacingAndGlyphs">210</text>
<text class="t" x="566.5" y="240" font-size="16.3" textLength="19.5" lengthAdjust="spacingAndGlyphs">107</text>
<path class="n" d="M565 242.4L588 242.4"/>
<text class="t" x="554.6" y="254.8" font-size="15.4" textLength="44.6" lengthAdjust="spacingAndGlyphs">140-150</text>
<text class="t" x="700.4" y="294.8" font-size="15.6" textLength="18.1" lengthAdjust="spacingAndGlyphs">104</text>
<path class="n" d="M699.5 297L719.5 297"/>
<text class="t" x="685" y="312.9" font-size="16.2" textLength="50.3" lengthAdjust="spacingAndGlyphs">2.39-2.49</text>
<text class="t" x="782.6" y="239" font-size="16.1" textLength="16.8" lengthAdjust="spacingAndGlyphs">106</text>
<path class="n" d="M781.5 241.2L800.5 241.2"/>
<text class="t" x="783.3" y="255.2" font-size="15.4" textLength="17.5" lengthAdjust="spacingAndGlyphs">160</text>
<text class="t" x="873.4" y="236.4" font-size="15.6" textLength="12.6" lengthAdjust="spacingAndGlyphs">94</text>
<path class="n" d="M872.5 239L887.5 239"/>
<text class="t" x="872.8" y="253.9" font-size="15.6" textLength="17.4" lengthAdjust="spacingAndGlyphs">160</text>
<text class="t" x="691.4" y="226.5" font-size="12.7" textLength="9" lengthAdjust="spacingAndGlyphs">A</text>
<text class="t" x="537.8" y="302.7" font-size="15.2" textLength="30" lengthAdjust="spacingAndGlyphs">BH 92</text>
<text class="t" x="779.2" y="297.6" font-size="15.5" textLength="32.7" lengthAdjust="spacingAndGlyphs">BH 70</text>
<text class="t" x="868.6" y="297.6" font-size="15.5" textLength="32.7" lengthAdjust="spacingAndGlyphs">BH 70</text>
<text class="t" x="552.5" y="375.9" font-size="14.7" textLength="23" lengthAdjust="spacingAndGlyphs">KIND</text>
<text class="t" x="553.2" y="393.3" font-size="15.1" textLength="32.5" lengthAdjust="spacingAndGlyphs">11.05 m</text>
<text class="t" x="586.5" y="387" font-size="9.1" textLength="5" lengthAdjust="spacingAndGlyphs">2</text>
<text class="t" x="553.2" y="407.9" font-size="13.4" textLength="43.2" lengthAdjust="spacingAndGlyphs">RH 2.65m</text>
<text class="t" x="803.6" y="340.5" font-size="14.2" textLength="88" lengthAdjust="spacingAndGlyphs">WOHNEN /ESSEN</text>
<text class="t" x="803.6" y="360.2" font-size="16.3" textLength="38.8" lengthAdjust="spacingAndGlyphs">22.93 m</text>
<text class="t" x="843.2" y="353.4" font-size="9.8" textLength="5" lengthAdjust="spacingAndGlyphs">2</text>
<text class="t" x="803.6" y="374.3" font-size="12.6" textLength="43.2" lengthAdjust="spacingAndGlyphs">RH 2.65m</text>
<text class="t" x="625.6" y="549.8" font-size="14.7" textLength="22.6" lengthAdjust="spacingAndGlyphs">FLUR</text>
<text class="t" x="625.8" y="568.5" font-size="16.1" textLength="33.9" lengthAdjust="spacingAndGlyphs">7.29 m</text>
<text class="t" x="660.5" y="561.8" font-size="9.6" textLength="5" lengthAdjust="spacingAndGlyphs">2</text>
<text class="t" x="626.5" y="583.8" font-size="13.7" textLength="43.9" lengthAdjust="spacingAndGlyphs">RH 2.65m</text>
<text class="t" x="352.3" y="550.2" font-size="15.1" textLength="31.3" lengthAdjust="spacingAndGlyphs">TREPPE</text>
<text class="t" x="351.6" y="569" font-size="16.2" textLength="31.1" lengthAdjust="spacingAndGlyphs">13.91 m</text>
<text class="t" x="383.5" y="562.3" font-size="9.7" textLength="5" lengthAdjust="spacingAndGlyphs">2</text>
<text class="t" x="378.7" y="666.5" font-size="14.7" textLength="32.8" lengthAdjust="spacingAndGlyphs">GANG</text>
<text class="t" x="378.7" y="684.6" font-size="15.8" textLength="33.3" lengthAdjust="spacingAndGlyphs">6.66 m</text>
<text class="t" x="412.8" y="678" font-size="9.5" textLength="5" lengthAdjust="spacingAndGlyphs">2</text>
<text class="t" x="378" y="699.2" font-size="13.8" textLength="48.1" lengthAdjust="spacingAndGlyphs">RH 3.08 m</text>
<text class="t3" x="385" y="713.9" font-size="7.8" textLength="20.9" lengthAdjust="spacingAndGlyphs">V-01</text>
<text class="t" x="510.7" y="655.3" font-size="16.1" textLength="51.5" lengthAdjust="spacingAndGlyphs">SCHLAFEN</text>
<text class="t" x="511.4" y="672.7" font-size="16.3" textLength="32.5" lengthAdjust="spacingAndGlyphs">15.12 m</text>
<text class="t" x="544.7" y="665.9" font-size="9.8" textLength="5" lengthAdjust="spacingAndGlyphs">2</text>
<text class="t" x="511.4" y="685.9" font-size="13.3" textLength="43.9" lengthAdjust="spacingAndGlyphs">RH 2.65m</text>
<text class="t" x="699" y="693.1" font-size="15.1" textLength="20.2" lengthAdjust="spacingAndGlyphs">BAD</text>
<text class="t" x="699" y="711.3" font-size="16.5" textLength="32.6" lengthAdjust="spacingAndGlyphs">8.08 m</text>
<text class="t" x="732.4" y="704.5" font-size="9.9" textLength="5" lengthAdjust="spacingAndGlyphs">2</text>
<text class="t" x="699" y="725.2" font-size="14" textLength="43.2" lengthAdjust="spacingAndGlyphs">RH 2.65m</text>
<text class="t" x="831.8" y="656.2" font-size="15.2" textLength="33.5" lengthAdjust="spacingAndGlyphs">KUCHE</text>
<text class="t" x="831.8" y="673.6" font-size="16.2" textLength="32.6" lengthAdjust="spacingAndGlyphs">8.60 m</text>
<text class="t" x="865.2" y="666.9" font-size="9.7" textLength="5" lengthAdjust="spacingAndGlyphs">2</text>
<text class="t" x="832.5" y="686.9" font-size="13.4" textLength="43.2" lengthAdjust="spacingAndGlyphs">RH 2.65m</text>
<text class="t" x="697.6" y="807.6" font-size="15.6" textLength="23" lengthAdjust="spacingAndGlyphs">WM</text>
<text class="t" x="727.6" y="818" font-size="14.2" textLength="30" lengthAdjust="spacingAndGlyphs">BH 88</text>
<text class="t" x="532.3" y="822.2" font-size="15.6" textLength="31.3" lengthAdjust="spacingAndGlyphs">BH 85</text>
<text class="t" x="625.6" y="821.5" font-size="15.2" textLength="30" lengthAdjust="spacingAndGlyphs">BH 88</text>
<text class="t" x="864.6" y="820.8" font-size="15.1" textLength="30.7" lengthAdjust="spacingAndGlyphs">BH 85</text>
<text class="t" x="781.3" y="836.8" font-size="11.2" textLength="45.3" lengthAdjust="spacingAndGlyphs">AW DN 100</text>
<text class="t" x="426.8" y="402.3" font-size="14.7" textLength="30.7" lengthAdjust="spacingAndGlyphs">8 STG</text>
<text class="t" x="426.8" y="417.6" font-size="14.5" textLength="31.4" lengthAdjust="spacingAndGlyphs">20/27</text>
<text class="t" x="415" y="538.3" font-size="14.5" textLength="64.8" lengthAdjust="spacingAndGlyphs">12 STG 18/30</text>
<text class="t" x="366.9" y="323.6" font-size="15.5" textLength="17.9" lengthAdjust="spacingAndGlyphs">1,35</text>
<text class="t" x="385.6" y="317.2" font-size="9.3" textLength="5" lengthAdjust="spacingAndGlyphs">5</text>
<text class="t" x="417.2" y="315.3" font-size="9.8" textLength="4.1" lengthAdjust="spacingAndGlyphs">9</text>
<text class="t" x="425.4" y="323.4" font-size="13.3" textLength="12.6" lengthAdjust="spacingAndGlyphs">35</text>
<text class="t" x="456.8" y="323.6" font-size="15.5" textLength="12.5" lengthAdjust="spacingAndGlyphs">73</text>
<text class="t" x="365.5" y="344.5" font-size="11.6" textLength="18.1" lengthAdjust="spacingAndGlyphs">-0.19</text>
<text class="t" x="346" y="369.6" font-size="11.6" textLength="45.3" lengthAdjust="spacingAndGlyphs">RH 2.10 m</text>
<text class="t" x="373.2" y="390.2" font-size="10.9" textLength="11.2" lengthAdjust="spacingAndGlyphs">+19</text>
<text class="t" x="450.5" y="569.7" font-size="14.4" textLength="16.5" lengthAdjust="spacingAndGlyphs">•20</text>
<path class="n" d="M469 558L469 570"/>
<text class="t" x="353.7" y="610.8" font-size="16.8" textLength="50.1" lengthAdjust="spacingAndGlyphs">UZ 24/16</text>
<text class="t" x="370.4" y="646" font-size="14.7" textLength="20.9" lengthAdjust="spacingAndGlyphs">0,00</text>
<text class="t" x="322.3" y="693.7" font-size="15.2" textLength="11.8" lengthAdjust="spacingAndGlyphs">20</text>
<text class="t" x="346.7" y="693.7" font-size="15.2" textLength="13.2" lengthAdjust="spacingAndGlyphs">25</text>
<text class="t3" x="359.2" y="741" font-size="8.9" textLength="54.4" lengthAdjust="spacingAndGlyphs">Hausanschlüsse</text>
<text class="t3" x="359.2" y="753.2" font-size="9.2" textLength="71.8" lengthAdjust="spacingAndGlyphs">Strom/Gas/Wasser</text>
<text class="t" x="388.5" y="783" font-size="15.4" textLength="15.3" lengthAdjust="spacingAndGlyphs">1,41</text>
<path class="n" d="M387.5 785.8L404.8 785.8"/>
<text class="t" x="385.7" y="800.4" font-size="14.8" textLength="21.6" lengthAdjust="spacingAndGlyphs">2,80</text>
<text class="t3" x="355.7" y="873.6" font-size="8.9" textLength="48.1" lengthAdjust="spacingAndGlyphs">Anschluß AW</text>
<text class="tw" x="314.6" y="900.8" font-size="23.2" textLength="142.7" lengthAdjust="spacingAndGlyphs">Wohnung ca. 73 m</text>
<text class="tw" x="458.1" y="891.2" font-size="13.9" textLength="5" lengthAdjust="spacingAndGlyphs">2</text>
<text class="t" x="530.2" y="451.1" font-size="15.2" textLength="19.5" lengthAdjust="spacingAndGlyphs">1,45</text>
<text class="t" x="601.3" y="451.8" font-size="14.4" textLength="13.2" lengthAdjust="spacingAndGlyphs">94</text>
<text class="t" x="599.2" y="472.7" font-size="15.2" textLength="19.5" lengthAdjust="spacingAndGlyphs">2,01</text>
<text class="t3" x="530.9" y="517.3" font-size="9.4" textLength="39" lengthAdjust="spacingAndGlyphs">Gastherme</text>
<text class="t3" x="498.8" y="470.6" font-size="9.2" textLength="46" lengthAdjust="spacingAndGlyphs">AW DN 100</text>
<text class="t" x="588.5" y="538.8" font-size="13.1" textLength="20.9" lengthAdjust="spacingAndGlyphs">0,00</text>
<text class="t" x="591.3" y="559.7" font-size="13.1" textLength="22.9" lengthAdjust="spacingAndGlyphs">•0,20</text>
<text class="t" x="587.3" y="633.7" font-size="15.2" textLength="19.5" lengthAdjust="spacingAndGlyphs">1,00</text>
<text class="t" x="587.3" y="654.6" font-size="15.2" textLength="20.2" lengthAdjust="spacingAndGlyphs">2,01</text>
<text class="t" x="647.2" y="634.4" font-size="15.1" textLength="12.6" lengthAdjust="spacingAndGlyphs">98</text>
<text class="t" x="709.5" y="635.3" font-size="14.4" textLength="11.8" lengthAdjust="spacingAndGlyphs">76</text>
<text class="t" x="706" y="652.7" font-size="15.1" textLength="19.5" lengthAdjust="spacingAndGlyphs">2,01</text>
<text class="t" x="850.4" y="566.4" font-size="14.5" textLength="16.7" lengthAdjust="spacingAndGlyphs">1,28</text>
<text class="t" x="851.8" y="588" font-size="14.5" textLength="17.4" lengthAdjust="spacingAndGlyphs">2,01</text>
<text class="t" x="910.3" y="567.8" font-size="15.1" textLength="13.3" lengthAdjust="spacingAndGlyphs">73</text>
<path class="n" d="M353.7 340.5L353.7 351.5"/>
<path class="n" d="M351.5 349.8A4.4 4.4 0 0 1 351.5 342.2"/>
<path class="n" d="M356.5 342.6A4.4 4.4 0 0 1 356.5 349.4"/>
<path class="n" d="M353.7 347L358.7 347"/>
<path class="n" d="M360 640.5L360 651.5"/>
<path class="n" d="M357.8 649.8A4.4 4.4 0 0 1 357.8 642.2"/>
<path class="n" d="M362.8 642.6A4.4 4.4 0 0 1 362.8 649.4"/>
<path class="n" d="M360 647L365 647"/>
<path class="n" d="M579.4 534.7L579.4 545.7"/>
<path class="n" d="M577.2 544A4.4 4.4 0 0 1 577.2 536.4"/>
<path class="n" d="M582.2 536.8A4.4 4.4 0 0 1 582.2 543.6"/>
<path class="n" d="M579.4 541.2L584.4 541.2"/>
<path class="dot" d="M579.4 556.5L579.4 567.5"/>
<path class="dot" d="M577.2 565.8A4.4 4.4 0 0 1 577.2 558.2"/>
<path class="dot" d="M582.2 558.6A4.4 4.4 0 0 1 582.2 565.4"/>
<path class="dot" d="M579.4 563L584.4 563"/>
<text class="t" x="544.4" y="870" font-size="14.2" textLength="11.7" lengthAdjust="spacingAndGlyphs">1,13</text>
<path class="n" d="M543.4 872.2L557.1 872.2"/>
<text class="t" x="542.8" y="886.7" font-size="14.9" textLength="17.5" lengthAdjust="spacingAndGlyphs">180</text>
<text class="t" x="635.3" y="870" font-size="14.2" textLength="11.1" lengthAdjust="spacingAndGlyphs">1,11</text>
<path class="n" d="M634.3 872.2L647.4 872.2"/>
<text class="t" x="632.5" y="886.7" font-size="14.9" textLength="18.1" lengthAdjust="spacingAndGlyphs">180</text>
<text class="t" x="691.7" y="883" font-size="13.5" textLength="8.3" lengthAdjust="spacingAndGlyphs">A</text>
<text class="t" x="728.3" y="870" font-size="14.2" textLength="11.1" lengthAdjust="spacingAndGlyphs">1,11</text>
<path class="n" d="M727.3 872.2L740.4 872.2"/>
<text class="t" x="725.6" y="886.7" font-size="14.9" textLength="18" lengthAdjust="spacingAndGlyphs">179</text>
<text class="t" x="882.5" y="870" font-size="14.2" textLength="12.5" lengthAdjust="spacingAndGlyphs">1,12</text>
<path class="n" d="M881.5 872.2L896 872.2"/>
<text class="t" x="881.1" y="886.7" font-size="14.9" textLength="16.7" lengthAdjust="spacingAndGlyphs">182</text>
<path class="gd2" d="M313.4 931.1L640 930.3"/>
<path class="gd2" d="M640 930.3L965.2 929.7"/>
<path class="n" d="M313.4 928.6L313.4 933.6"/>
<path class="n" d="M360.8 928.5L360.8 933.5"/>
<path class="n" d="M431.3 928.4L431.3 933.4"/>
<path class="n" d="M520.7 928.2L520.7 933.2"/>
<path class="n" d="M575.4 928L575.4 933"/>
<path class="n" d="M610.4 927.9L610.4 932.9"/>
<path class="n" d="M666.3 927.7L666.3 932.7"/>
<path class="n" d="M703.7 927.6L703.7 932.6"/>
<path class="n" d="M758.6 927.5L758.6 932.5"/>
<path class="n" d="M855.1 927.3L855.1 932.3"/>
<path class="n" d="M909.8 927.2L909.8 932.2"/>
<path class="n" d="M965.2 927.2L965.2 932.2"/>
<path class="gd2" d="M313.4 968L470 967.6"/>
<path class="gd2" d="M682.5 966.4L965.2 966.1"/>
<path class="n" d="M313.4 965.5L313.4 970.5"/>
<path class="n" d="M340.1 965.5L340.1 970.5"/>
<path class="n" d="M435.6 965.3L435.6 970.3"/>
<path class="n" d="M452.6 965.3L452.6 970.3"/>
<path class="n" d="M682.5 963.9L682.5 968.9"/>
<path class="n" d="M689.3 963.9L689.3 968.9"/>
<path class="n" d="M811.4 963.7L811.4 968.7"/>
<path class="n" d="M817 963.7L817 968.7"/>
<path class="n" d="M939.5 963.6L939.5 968.6"/>
<path class="n" d="M965.2 963.6L965.2 968.6"/>
<path class="gd2" d="M313.9 1004L640 1003"/>
<path class="gd2" d="M640 1003L965.2 1002"/>
<path class="n" d="M313.9 1001.5L313.9 1006.5"/>
<path class="n" d="M339.6 1001.5L339.6 1006.5"/>
<path class="n" d="M483.5 1001.1L483.5 1006.1"/>
<path class="n" d="M498.1 1001.1L498.1 1006.1"/>
<path class="n" d="M757.9 1000L757.9 1005"/>
<path class="n" d="M767.6 1000L767.6 1005"/>
<path class="n" d="M939.5 999.5L939.5 1004.5"/>
<path class="n" d="M965.2 999.5L965.2 1004.5"/>
<text class="t2" x="329.2" y="929" font-size="15.4" textLength="12.5" lengthAdjust="spacingAndGlyphs">83</text>
<text class="t2" x="342.5" y="922.6" font-size="9.2" textLength="3.7" lengthAdjust="spacingAndGlyphs">5</text>
<text class="t2" x="387" y="928" font-size="15.4" textLength="19.2" lengthAdjust="spacingAndGlyphs">1,23</text>
<text class="t2" x="466.5" y="927.5" font-size="15.6" textLength="19.5" lengthAdjust="spacingAndGlyphs">1,55</text>
<text class="t2" x="541.9" y="928.4" font-size="15.4" textLength="13.3" lengthAdjust="spacingAndGlyphs">96</text>
<text class="t2" x="588.8" y="928.4" font-size="15.4" textLength="10.2" lengthAdjust="spacingAndGlyphs">61</text>
<text class="t2" x="631" y="928.4" font-size="15.4" textLength="14.2" lengthAdjust="spacingAndGlyphs">96</text>
<text class="t2" x="678.4" y="928" font-size="15.4" textLength="13.1" lengthAdjust="spacingAndGlyphs">66</text>
<text class="t2" x="723.9" y="928" font-size="15.4" textLength="13.8" lengthAdjust="spacingAndGlyphs">96</text>
<text class="t2" x="799.2" y="926.3" font-size="15.5" textLength="17" lengthAdjust="spacingAndGlyphs">1,71</text>
<text class="t2" x="875.3" y="928" font-size="15.4" textLength="13.9" lengthAdjust="spacingAndGlyphs">96</text>
<text class="t2" x="928.5" y="928" font-size="15.4" textLength="12.1" lengthAdjust="spacingAndGlyphs">96</text>
<text class="t2" x="941.4" y="921.6" font-size="9.2" textLength="3.6" lengthAdjust="spacingAndGlyphs">5</text>
<text class="t2" x="317" y="965.6" font-size="14.8" textLength="14.4" lengthAdjust="spacingAndGlyphs">44</text>
<text class="t2" x="332.2" y="959.5" font-size="8.9" textLength="4.3" lengthAdjust="spacingAndGlyphs">5</text>
<text class="t2" x="378.3" y="964.4" font-size="15.9" textLength="20.1" lengthAdjust="spacingAndGlyphs">1,70</text>
<text class="t2" x="438" y="960" font-size="15.4" textLength="12.7" lengthAdjust="spacingAndGlyphs">28</text>
<text class="t2" x="556.4" y="964.4" font-size="15.9" textLength="23.1" lengthAdjust="spacingAndGlyphs">4,00</text>
<text class="t2" x="681.8" y="958.3" font-size="14.9" textLength="8.8" lengthAdjust="spacingAndGlyphs">13</text>
<text class="t2" x="738.4" y="962" font-size="16.1" textLength="18.6" lengthAdjust="spacingAndGlyphs">2,12</text>
<text class="t2" x="757.8" y="955.3" font-size="9.6" textLength="5" lengthAdjust="spacingAndGlyphs">5</text>
<text class="t2" x="809.4" y="958.3" font-size="15.8" textLength="7" lengthAdjust="spacingAndGlyphs">11</text>
<text class="t2" x="817.2" y="951.7" font-size="9.5" textLength="2.2" lengthAdjust="spacingAndGlyphs">5</text>
<text class="t2" x="868.5" y="962" font-size="16.1" textLength="19.9" lengthAdjust="spacingAndGlyphs">2,16</text>
<text class="t2" x="943.8" y="963.7" font-size="14.2" textLength="13.4" lengthAdjust="spacingAndGlyphs">44</text>
<text class="t2" x="958" y="957.8" font-size="8.5" textLength="4" lengthAdjust="spacingAndGlyphs">5</text>
<text class="t2" x="317" y="1002" font-size="15.4" textLength="14.4" lengthAdjust="spacingAndGlyphs">44</text>
<text class="t2" x="332.2" y="995.6" font-size="9.2" textLength="4.3" lengthAdjust="spacingAndGlyphs">5</text>
<text class="t2" x="397.2" y="1000" font-size="16.1" textLength="22.2" lengthAdjust="spacingAndGlyphs">2,52</text>
<text class="t2" x="420.2" y="993.3" font-size="9.6" textLength="5" lengthAdjust="spacingAndGlyphs">5</text>
<text class="t2" x="484.7" y="994.8" font-size="15.8" textLength="13.4" lengthAdjust="spacingAndGlyphs">25</text>
<text class="t2" x="613.6" y="1000" font-size="16.1" textLength="24.6" lengthAdjust="spacingAndGlyphs">4,52</text>
<text class="t2" x="639" y="993.3" font-size="9.6" textLength="5" lengthAdjust="spacingAndGlyphs">5</text>
<text class="t2" x="758.4" y="993.6" font-size="14.8" textLength="8.7" lengthAdjust="spacingAndGlyphs">17</text>
<text class="t2" x="841.7" y="997.2" font-size="15.9" textLength="23.1" lengthAdjust="spacingAndGlyphs">3,04</text>
<text class="t2" x="943.8" y="999.2" font-size="14.7" textLength="13.4" lengthAdjust="spacingAndGlyphs">44</text>
<text class="t2" x="958" y="993.1" font-size="8.8" textLength="4" lengthAdjust="spacingAndGlyphs">5</text>
<path class="vd" d="M216.6 258.4L216.6 854"/>
<path class="vd" d="M251.6 258.4L251.6 854"/>
<path class="n" d="M214.8 258.8L219.2 258.8"/>
<path class="n" d="M214.8 853.5L219.2 853.5"/>
<path class="n" d="M249.7 259.8L254.1 259.8"/>
<path class="n" d="M249.7 282.9L254.1 282.9"/>
<path class="n" d="M249.7 596.9L254.1 596.9"/>
<path class="n" d="M249.7 612.2L254.1 612.2"/>
<path class="n" d="M249.7 826.5L254.1 826.5"/>
<path class="n" d="M249.7 853.5L254.1 853.5"/>
<text class="t2" transform="translate(247.2 276.5) rotate(-90)" font-size="13.7" textLength="11.2" lengthAdjust="spacingAndGlyphs">41</text>
<text class="t2" transform="translate(247.2 450.7) rotate(-90)" font-size="15.6" textLength="19.5" lengthAdjust="spacingAndGlyphs">5,51</text>
<text class="t2" transform="translate(211.7 570) rotate(-90)" font-size="14.7" textLength="23.5" lengthAdjust="spacingAndGlyphs">10,48</text>
<text class="t2" transform="translate(244.8 609.8) rotate(-90)" font-size="14.2" textLength="11.5" lengthAdjust="spacingAndGlyphs">25</text>
<text class="t2" transform="translate(247.2 728) rotate(-90)" font-size="15.6" textLength="20" lengthAdjust="spacingAndGlyphs">3,83</text>
<text class="t2" transform="translate(247.6 848.5) rotate(-90)" font-size="14" textLength="11.5" lengthAdjust="spacingAndGlyphs">43</text>
<path class="gd2" d="M280 712L280 828"/>
<path class="n" d="M278 714L282 714"/>
<path class="n" d="M278 719.6L282 719.6"/>
<path class="n" d="M278 768.4L282 768.4"/>
<path class="n" d="M278 775.3L282 775.3"/>
<path class="n" d="M278 826.9L282 826.9"/>
<text class="t2" transform="translate(277 722.6) rotate(-90)" font-size="12.6" textLength="7" lengthAdjust="spacingAndGlyphs">11</text>
<text class="t2" transform="translate(271.8 714.8) rotate(-90)" font-size="7.5" textLength="2.2" lengthAdjust="spacingAndGlyphs">5</text>
<text class="t2" transform="translate(277 754.6) rotate(-90)" font-size="12.6" textLength="12.4" lengthAdjust="spacingAndGlyphs">87</text>
<text class="t2" transform="translate(271.8 741.4) rotate(-90)" font-size="7.5" textLength="3.7" lengthAdjust="spacingAndGlyphs">5</text>
<text class="t2" transform="translate(277 777) rotate(-90)" font-size="12.6" textLength="7" lengthAdjust="spacingAndGlyphs">11</text>
<text class="t2" transform="translate(271.8 769.2) rotate(-90)" font-size="7.5" textLength="2.2" lengthAdjust="spacingAndGlyphs">5</text>
<text class="t2" transform="translate(277 807.6) rotate(-90)" font-size="12.6" textLength="11.4" lengthAdjust="spacingAndGlyphs">88</text>
<text class="t2" transform="translate(271.8 795.4) rotate(-90)" font-size="7.5" textLength="3.4" lengthAdjust="spacingAndGlyphs">5</text>
<path class="vd" d="M1013.6 252.3L1013.4 852"/>
<path class="vd" d="M1051.4 254.4L1050.8 852"/>
<path class="n" d="M1011.4 256.4L1015.8 256.4"/>
<path class="n" d="M1011.4 277.4L1015.8 277.4"/>
<path class="n" d="M1011.4 493.6L1015.8 493.6"/>
<path class="n" d="M1011.4 503L1015.8 503"/>
<path class="n" d="M1011.4 595.3L1015.8 595.3"/>
<path class="n" d="M1011.4 612.4L1015.8 612.4"/>
<path class="n" d="M1011.4 824.3L1015.8 824.3"/>
<path class="n" d="M1011.4 851.5L1015.8 851.5"/>
<path class="n" d="M1049.2 256.4L1053.6 256.4"/>
<path class="n" d="M1049.2 281L1053.6 281"/>
<path class="n" d="M1049.2 592.2L1053.6 592.2"/>
<path class="n" d="M1049.2 600.6L1053.6 600.6"/>
<path class="n" d="M1049.2 824.3L1053.6 824.3"/>
<path class="n" d="M1049.2 851.5L1053.6 851.5"/>
<text class="t2" transform="translate(1010.7 273.9) rotate(-90)" font-size="17.5" textLength="12.6" lengthAdjust="spacingAndGlyphs">37</text>
<text class="t2" transform="translate(1048.5 275) rotate(-90)" font-size="16.8" textLength="13" lengthAdjust="spacingAndGlyphs">43</text>
<text class="t2" transform="translate(1009.3 398.5) rotate(-90)" font-size="17.5" textLength="23.7" lengthAdjust="spacingAndGlyphs">3,79</text>
<text class="t2" transform="translate(1046.4 450) rotate(-90)" font-size="17.3" textLength="22.2" lengthAdjust="spacingAndGlyphs">5,44</text>
<text class="t2" transform="translate(1006.5 502.5) rotate(-90)" font-size="12.6" textLength="10" lengthAdjust="spacingAndGlyphs">15</text>
<text class="t2" transform="translate(1009.2 556.5) rotate(-90)" font-size="16.3" textLength="16.5" lengthAdjust="spacingAndGlyphs">1,61</text>
<text class="t2" transform="translate(1004.3 610.3) rotate(-90)" font-size="17.2" textLength="13.2" lengthAdjust="spacingAndGlyphs">30</text>
<text class="t2" transform="translate(1041.8 600.6) rotate(-90)" font-size="17.2" textLength="9.6" lengthAdjust="spacingAndGlyphs">15</text>
<text class="t2" transform="translate(1008.9 727.3) rotate(-90)" font-size="17.6" textLength="21.6" lengthAdjust="spacingAndGlyphs">3,78</text>
<text class="t2" transform="translate(1046 721.7) rotate(-90)" font-size="17.7" textLength="21.6" lengthAdjust="spacingAndGlyphs">3,98</text>
<text class="t2" transform="translate(1011 843.8) rotate(-90)" font-size="15.6" textLength="12.5" lengthAdjust="spacingAndGlyphs">48</text>
<text class="t2" transform="translate(1048.8 843.8) rotate(-90)" font-size="15.8" textLength="12.5" lengthAdjust="spacingAndGlyphs">48</text>
<text class="t3" transform="translate(517.6 447) rotate(-90)" font-size="9.2" textLength="90" lengthAdjust="spacingAndGlyphs">Leitung unter Decke/GK</text>
<text class="t" transform="translate(518.8 562.5) rotate(-90)" font-size="15.6" textLength="12.6" lengthAdjust="spacingAndGlyphs">99</text>
<text class="t" transform="translate(539.7 566.7) rotate(-90)" font-size="17.6" textLength="21" lengthAdjust="spacingAndGlyphs">2,13</text>
<text class="t" transform="translate(515.3 597.3) rotate(-90)" font-size="15.6" textLength="13.9" lengthAdjust="spacingAndGlyphs">20</text>
<text class="t" transform="translate(785.4 559.4) rotate(-90)" font-size="15.6" textLength="13.3" lengthAdjust="spacingAndGlyphs">88</text>
<text class="t" transform="translate(778.9 545.3) rotate(-90)" font-size="9.4" textLength="4" lengthAdjust="spacingAndGlyphs">5</text>
<text class="t" transform="translate(780.5 590.1) rotate(-90)" font-size="15.6" textLength="12.5" lengthAdjust="spacingAndGlyphs">30</text>
<text class="t" transform="translate(805.8 560.8) rotate(-90)" font-size="16.6" textLength="20.9" lengthAdjust="spacingAndGlyphs">2,01</text>
<rect class="north" x="116.4" y="52" width="6.2" height="32.8"/>
<path class="vg" d="M119.3 24L119.3 52"/>
<path class="vg" d="M149.5 66.1A33 33 0 0 1 87.5 66.1"/>
<text class="tn" x="115" y="117.5" font-size="35.6" textLength="8.3" lengthAdjust="spacingAndGlyphs">N</text>
<path class="g" d="M59.2 34L59.2 110"/>
<path class="g2b" d="M59.2 110L59.2 995"/>
<path class="vvg" d="M6 40L6 600"/>
<text class="tl" x="1080.3" y="656.1" font-size="16.1" textLength="183.3" lengthAdjust="spacingAndGlyphs">Fußboden EG (mind 200 mm)</text>
<path class="n" d="M1080 659L1264 659"/>
<text class="tl" x="1095" y="692.8" font-size="14.5" textLength="77" lengthAdjust="spacingAndGlyphs">10 mm Belag</text>
<path class="n" d="M1081.7 688.5L1085 688.5"/>
<text class="tl" x="1095" y="711.7" font-size="14.5" textLength="225.6" lengthAdjust="spacingAndGlyphs">(Abdichtungsanstrich bei Nassräumen)</text>
<path class="n" d="M1081.7 707.4L1085 707.4"/>
<text class="tl" x="1095" y="731.1" font-size="14.5" textLength="250.6" lengthAdjust="spacingAndGlyphs">mind. 50 mm Überdeckung Zementestrich</text>
<path class="n" d="M1081.7 726.8L1085 726.8"/>
<text class="tl" x="1095" y="750" font-size="14.5" textLength="127" lengthAdjust="spacingAndGlyphs">Abdeckung (PE-Folie)</text>
<path class="n" d="M1081.7 745.7L1085 745.7"/>
<text class="tl" x="1095" y="769.2" font-size="14.5" textLength="182.5" lengthAdjust="spacingAndGlyphs">10 mm Trittschalldämmung EPS</text>
<path class="n" d="M1081.7 764.9L1085 764.9"/>
<text class="tl" x="1095" y="788.9" font-size="14.5" textLength="219.4" lengthAdjust="spacingAndGlyphs">100 mm Wärmedämmung WLG 035</text>
<path class="n" d="M1081.7 784.6L1085 784.6"/>
<text class="tl" x="1095" y="808.9" font-size="14.5" textLength="106" lengthAdjust="spacingAndGlyphs">Bitumenabdichtung</text>
<path class="n" d="M1081.7 804.6L1085 804.6"/>
<text class="tl" x="1095" y="828.3" font-size="14.5" textLength="190.8" lengthAdjust="spacingAndGlyphs">Ausgleichsestrich (mind 30 mm)</text>
<path class="n" d="M1081.7 824L1085 824"/>
<text class="tl" x="1095" y="847.2" font-size="14.5" textLength="57.5" lengthAdjust="spacingAndGlyphs">Rohboden</text>
<path class="n" d="M1081.7 842.9L1085 842.9"/>
<path class="n" d="M1417.2 682.5L1417.2 695"/>
<path class="n" d="M1417.2 720L1417.2 746.4"/>
<path class="n" d="M1417.2 775.6L1417.2 803.3"/>
<path class="vvg" d="M1417.2 842L1417.2 859"/>
<path class="tbl" d="M1174.6 928.4L1420.5 928"/>
<path class="tbl" d="M1175.2 928.4L1175.2 1014.3"/>
<path class="tbl" d="M1174.6 980.1L1420.5 979.7"/>
<text class="tb" x="1267" y="951.1" font-size="15.2" textLength="75.8" lengthAdjust="spacingAndGlyphs">Ghassan Kala</text>
<text class="tb2" x="1267" y="965.7" font-size="9.9" textLength="153.5" lengthAdjust="spacingAndGlyphs">Heinrich-Heine-Str. 2a, 06667 Wei</text>
<text class="tb" x="1267" y="1006.5" font-size="14.2" textLength="139" lengthAdjust="spacingAndGlyphs">Sanierung Zweifamilienhaus</text>
<text class="tb2" x="1180.4" y="945.5" font-size="6.3" textLength="43.8" lengthAdjust="spacingAndGlyphs">BAUHERR/IN</text>
<text class="tb2" x="1180.4" y="999.1" font-size="5.9" textLength="47.6" lengthAdjust="spacingAndGlyphs">BAUVORHABEN</text>
</g>
<g clip-path="url(#lens1)"><g clip-path="url(#lens2)"><rect x="1205" y="949.6" width="29" height="2.4" style="fill:#6484bd;stroke:none"/><rect x="1205" y="954.1" width="29" height="2.4" style="fill:#6484bd;stroke:none"/><rect x="1205" y="958.6" width="29" height="2.4" style="fill:#6484bd;stroke:none"/><rect x="1205" y="963.1" width="29" height="2.4" style="fill:#6484bd;stroke:none"/><rect x="1205" y="967.6" width="29" height="2.4" style="fill:#6484bd;stroke:none"/><rect x="1205" y="972.1" width="29" height="2.4" style="fill:#6484bd;stroke:none"/><rect x="1205" y="976.6" width="29" height="2.4" style="fill:#6484bd;stroke:none"/><rect x="1205" y="981.1" width="29" height="2.4" style="fill:#6484bd;stroke:none"/><rect x="1205" y="985.6" width="29" height="2.4" style="fill:#6484bd;stroke:none"/><rect x="1205" y="990.1" width="29" height="2.4" style="fill:#6484bd;stroke:none"/><rect x="1205" y="994.6" width="29" height="2.4" style="fill:#6484bd;stroke:none"/><rect x="1205" y="999.1" width="29" height="2.4" style="fill:#6484bd;stroke:none"/><rect x="1205" y="1003.6" width="29" height="2.4" style="fill:#6484bd;stroke:none"/></g></g>
<g clip-path="url(#lens2)"><g clip-path="url(#lens3)"><rect x="1238" y="949.6" width="30" height="2.4" style="fill:#6484bd;stroke:none"/><rect x="1238" y="954.1" width="30" height="2.4" style="fill:#6484bd;stroke:none"/><rect x="1238" y="958.6" width="30" height="2.4" style="fill:#6484bd;stroke:none"/><rect x="1238" y="963.1" width="30" height="2.4" style="fill:#6484bd;stroke:none"/><rect x="1238" y="967.6" width="30" height="2.4" style="fill:#6484bd;stroke:none"/><rect x="1238" y="972.1" width="30" height="2.4" style="fill:#6484bd;stroke:none"/><rect x="1238" y="976.6" width="30" height="2.4" style="fill:#6484bd;stroke:none"/><rect x="1238" y="981.1" width="30" height="2.4" style="fill:#6484bd;stroke:none"/><rect x="1238" y="985.6" width="30" height="2.4" style="fill:#6484bd;stroke:none"/><rect x="1238" y="990.1" width="30" height="2.4" style="fill:#6484bd;stroke:none"/><rect x="1238" y="994.6" width="30" height="2.4" style="fill:#6484bd;stroke:none"/><rect x="1238" y="999.1" width="30" height="2.4" style="fill:#6484bd;stroke:none"/><rect x="1238" y="1003.6" width="30" height="2.4" style="fill:#6484bd;stroke:none"/></g></g>
<circle cx="1202.8" cy="975.9" r="29.8" style="fill:none;stroke:#1e1e1e;stroke-width:1.6"/>
<circle cx="1236.3" cy="975.9" r="29.8" style="fill:none;stroke:#1e1e1e;stroke-width:1.6"/>
<circle cx="1269.7" cy="975.9" r="29.8" style="fill:none;stroke:#1e1e1e;stroke-width:1.6"/>
<text transform="translate(1049.36 1049.4) scale(1.115 1)" font-size="40.64" font-weight="bold" style="fill:#5d7cb6;stroke:#5d7cb6;stroke-width:1.17;stroke-linejoin:round">N</text>
<text transform="translate(1080.89 1049.4) scale(1.250 1)" font-size="40.64" style="fill:#444446;stroke:#444446;stroke-width:0.80;stroke-linejoin:round">I</text>
<text transform="translate(1094.21 1049.4) scale(0.930 1)" font-size="40.64" style="fill:#444446;stroke:#444446;stroke-width:1.00;stroke-linejoin:round">C</text>
<text transform="translate(1121.73 1049.4) scale(1.084 1)" font-size="40.64" style="fill:#444446;stroke:#444446;stroke-width:0.92;stroke-linejoin:round">O</text>
<text transform="translate(1157.17 1049.4) scale(0.999 1)" font-size="40.64" style="fill:#444446;stroke:#444446;stroke-width:1.00;stroke-linejoin:round">L</text>
<text transform="translate(1180.71 1049.4) scale(1.128 1)" font-size="40.64" style="fill:#444446;stroke:#444446;stroke-width:0.89;stroke-linejoin:round">A</text>
<text transform="translate(1211.29 1049.4) scale(1.250 1)" font-size="40.64" style="fill:#444446;stroke:#444446;stroke-width:0.80;stroke-linejoin:round">I</text>
<text transform="translate(1224.56 1049.4) scale(1.016 1)" font-size="40.64" font-weight="bold" style="fill:#5d7cb6;stroke:#5d7cb6;stroke-width:1.28;stroke-linejoin:round">C</text>
<text transform="translate(1253.71 1049.4) scale(1.095 1)" font-size="40.64" style="fill:#444446;stroke:#444446;stroke-width:0.91;stroke-linejoin:round">O</text>
<text transform="translate(1288.97 1049.4) scale(1.118 1)" font-size="40.64" style="fill:#444446;stroke:#444446;stroke-width:0.89;stroke-linejoin:round">N</text>
<text transform="translate(1322.83 1049.4) scale(0.857 1)" font-size="40.64" style="fill:#444446;stroke:#444446;stroke-width:1.00;stroke-linejoin:round">S</text>
<text transform="translate(1348.42 1049.4) scale(1.016 1)" font-size="40.64" style="fill:#444446;stroke:#444446;stroke-width:0.98;stroke-linejoin:round">U</text>
<text transform="translate(1380.34 1049.4) scale(0.948 1)" font-size="40.64" style="fill:#444446;stroke:#444446;stroke-width:1.00;stroke-linejoin:round">L</text>
<text transform="translate(1402.07 1049.4) scale(1.043 1)" font-size="40.64" style="fill:#444446;stroke:#444446;stroke-width:0.96;stroke-linejoin:round">T</text>
<text transform="translate(1048.9 1072.8) scale(1.12 1)" font-size="14.80" letter-spacing="1.97" style="fill:#444446;stroke:#444446;stroke-width:0.35">IMMOBILIEN</text>
<text transform="translate(1175.9 1072.8) scale(1.12 1)" font-size="14.80" letter-spacing="1.64" style="fill:#444446;stroke:#444446;stroke-width:0.35">GUTACHTEN</text>
<text transform="translate(1303.1 1072.8) scale(1.12 1)" font-size="14.80" letter-spacing="1.61" style="fill:#444446;stroke:#444446;stroke-width:0.35">INVESTMENT</text>
</svg></body></html>
